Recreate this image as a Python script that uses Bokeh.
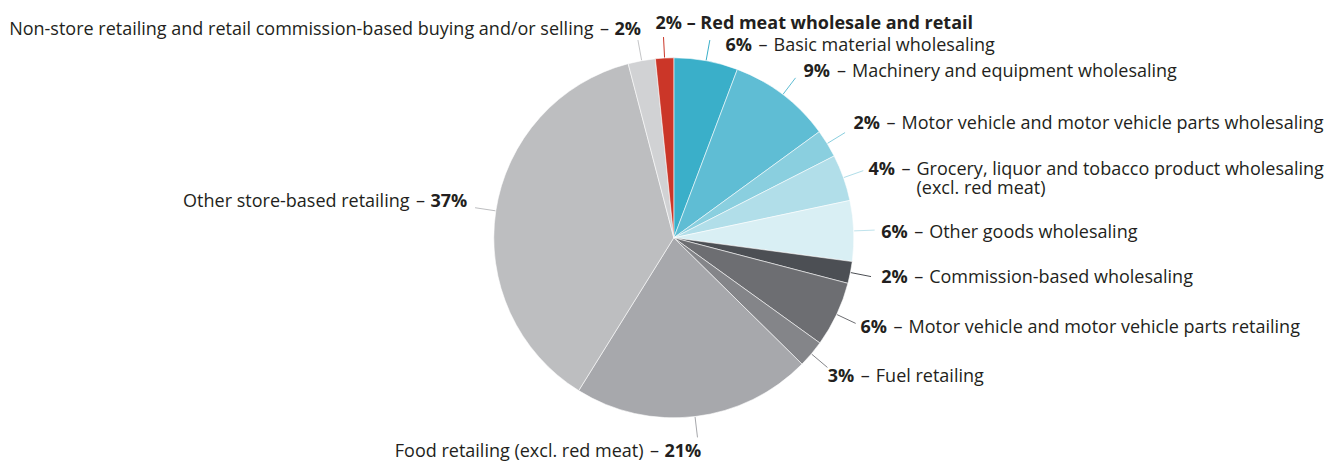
import math
from bokeh.plotting import figure
from bokeh.models import ColumnDataSource, Range1d
from bokeh.core.properties import value
from bokeh.embed import file_html
from bokeh.resources import INLINE

# ---------------- data (clockwise from 12 o'clock) ----------------
categories = [
    "Basic material wholesaling",
    "Machinery and equipment wholesaling",
    "Motor vehicle and motor vehicle parts wholesaling",
    "Grocery, liquor and tobacco product wholesaling\n(excl. red meat)",
    "Other goods wholesaling",
    "Commission-based wholesaling",
    "Motor vehicle and motor vehicle parts retailing",
    "Fuel retailing",
    "Food retailing (excl. red meat)",
    "Other store-based retailing",
    "Non-store retailing and retail commission-based buying and/or selling",
    "Red meat wholesale and retail",
]
shares = [5.74, 9.23, 2.52, 4.18, 5.44, 1.96, 5.86, 2.45, 21.48, 37.06, 2.45, 1.63]
pct_labels = ["6%", "9%", "2%", "4%", "6%", "2%", "6%", "3%", "21%", "37%", "2%", "2%"]
colors = ["#3AAFC9", "#5FBDD4", "#8ACFDF", "#B1DEE9", "#D9EFF4", "#4C4F54",
          "#6D6E72", "#848589", "#A7A8AC", "#BDBEC0", "#D1D2D4", "#CB3628"]

# ---------------- layout / style ----------------
PAGE_H = 462
W, H = 1327, 462
CX, CY, R = 673.3, 237.3, 180.0      # page pixel coordinates
LEAD_R0, LEAD_R1 = 180.5, 201.0
FONT = "Open Sans"
FS = "18px"
TXT = "#231F20"
BASE_SHIFT = 7.0        # renderer draws "alphabetic" text this much lower
LINE2 = 19.5            # second line spacing

def Y(py):
    return PAGE_H - py

def YT(py):
    return PAGE_H - (py - BASE_SHIFT)

# label placement (page px): side, x of the percentage's left edge, baseline y, bold width
label_pos = [
    ("R", 725.0, 50.0, 27.0),
    ("R", 803.0, 76.0, 27.5),
    ("R", 853.0, 128.0, 27.0),
    ("R", 868.0, 174.0, 27.0),
    ("R", 880.7, 237.7, 27.0),
    ("R", 880.7, 282.7, 27.0),
    ("R", 860.0, 332.7, 27.0),
    ("R", 827.3, 381.7, 27.0),
    ("L", 664.0, 456.5, 32.0),
    ("L", 430.0, 206.5, 37.0),
    ("L", 614.0, 34.5, 27.0),
    ("B", 655.0, 28.0, 0.0),
]

p = figure(width=W, height=H, x_range=Range1d(0, W), y_range=Range1d(0, H),
           output_backend="svg", toolbar_location=None, min_border=0)
p.axis.visible = False
p.grid.visible = False
p.outline_line_color = None
p.background_fill_color = "white"

# ---------------- pie ----------------
total = sum(shares)
cum = 0.0
starts, ends, mids = [], [], []
for s in shares:
    a0 = cum / total * 2 * math.pi
    cum += s
    a1 = cum / total * 2 * math.pi
    starts.append(math.pi / 2 - a1)
    ends.append(math.pi / 2 - a0)
    mids.append((a0 + a1) / 2)

pie_src = ColumnDataSource(dict(start=starts, end=ends, color=colors))
p.wedge(x=CX, y=Y(CY), radius=R, start_angle="start", end_angle="end",
        direction="anticlock", fill_color="color", line_color="white",
        line_width=0.7, line_alpha=0.8, source=pie_src)

# ---------------- leader lines ----------------
lx0 = [CX + LEAD_R0 * math.sin(m) for m in mids]
ly0 = [Y(CY) + LEAD_R0 * math.cos(m) for m in mids]
lx1 = [CX + LEAD_R1 * math.sin(m) for m in mids]
ly1 = [Y(CY) + LEAD_R1 * math.cos(m) for m in mids]
lead_cols = [c if c not in ("#D9EFF4", "#D1D2D4") else ("#BFE3EC" if c == "#D9EFF4" else "#C4C5C7") for c in colors]
p.segment(x0=lx0, y0=ly0, x1=lx1, y1=ly1, line_color=lead_cols, line_width=1)

# ---------------- labels ----------------
bold = dict(xs=[], ys=[], t=[], al=[])
norm = dict(xs=[], ys=[], t=[], al=[])
dash = dict(xs=[], ys=[], t=[])
for (side, x, yb, bw), name, pct in zip(label_pos, categories, pct_labels):
    lines = name.split("\n")
    if side == "R":
        bold["xs"].append(x); bold["ys"].append(YT(yb)); bold["t"].append(pct); bold["al"].append("left")
        dash["xs"].append(x + bw + 10.5); dash["ys"].append(YT(yb)); dash["t"].append("\u2013")
        for i, ln in enumerate(lines):
            norm["xs"].append(x + bw + 21); norm["ys"].append(YT(yb + i * LINE2))
            norm["t"].append(ln); norm["al"].append("left")
    elif side == "L":
        bold["xs"].append(x); bold["ys"].append(YT(yb)); bold["t"].append(pct); bold["al"].append("left")
        dash["xs"].append(x - 10); dash["ys"].append(YT(yb)); dash["t"].append("\u2013")
        norm["xs"].append(x - 21); norm["ys"].append(YT(yb)); norm["t"].append(name); norm["al"].append("right")
    else:
        bold["xs"].append(x); bold["ys"].append(YT(yb)); bold["t"].append(pct + " \u2013 " + name); bold["al"].append("left")

p.text(x="xs", y="ys", text="t", text_align="al", source=ColumnDataSource(bold),
       text_font=value(FONT), text_font_size=FS, text_font_style="bold",
       text_color=TXT, text_baseline="alphabetic")
p.text(x="xs", y="ys", text="t", text_align="al", source=ColumnDataSource(norm),
       text_font=value(FONT), text_font_size=FS, text_font_style="normal",
       text_color=TXT, text_baseline="alphabetic")
p.text(x="xs", y="ys", text="t", source=ColumnDataSource(dash),
       text_align="center", text_font=value(FONT), text_font_size=FS,
       text_color=TXT, text_baseline="alphabetic")

open("out.html", "w").write(file_html(p, INLINE))
